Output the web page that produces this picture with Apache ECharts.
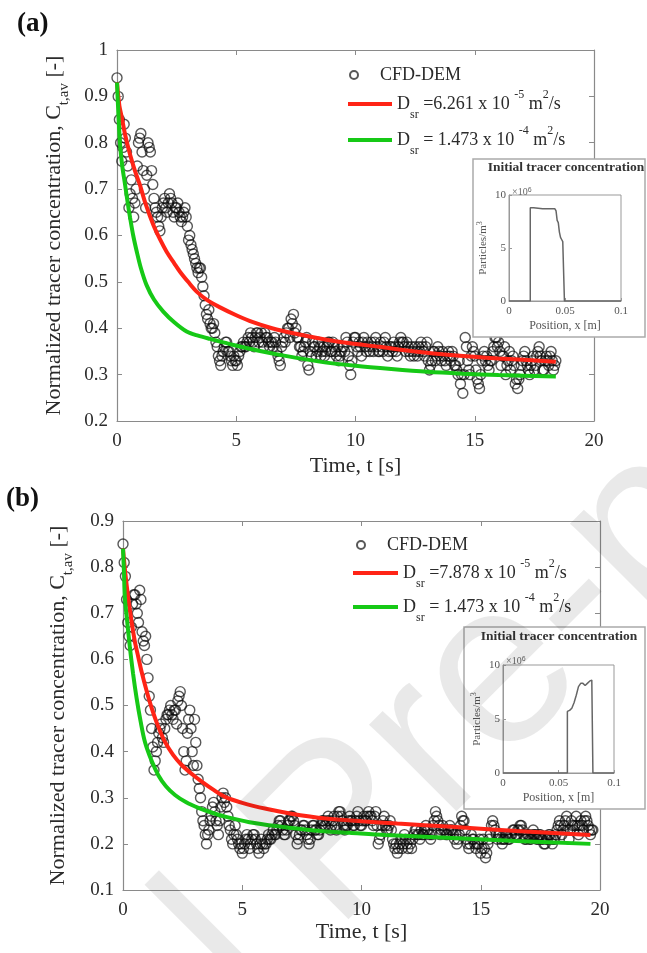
<!DOCTYPE html>
<html><head><meta charset="utf-8">
<script src="https://cdn.jsdelivr.net/npm/echarts@6/dist/echarts.min.js"></script>
<style>html,body{margin:0;padding:0;background:#fff}#c{width:647px;height:953px}</style>
</head><body><div id="c"></div>
<script>
// ---------- DATA ----------
const dtA = 0.05, dtB = 0.05;
const cfdA = [
  0.94,0.90,0.85,0.80,0.76,0.79,0.84,0.81,0.78,0.75,
  0.66,0.69,0.72,0.68,0.64,0.67,0.70,0.75,0.80,0.81,
  0.82,0.78,0.74,0.70,0.66,0.73,0.80,0.79,0.78,0.74,
  0.71,0.68,0.66,0.65,0.64,0.62,0.61,0.64,0.66,0.67,
  0.68,0.66,0.65,0.67,0.69,0.68,0.67,0.65,0.64,0.66,
  0.66,0.67,0.65,0.64,0.63,0.64,0.65,0.66,0.64,0.62,
  0.59,0.60,0.58,0.57,0.56,0.55,0.54,0.53,0.52,0.53,
  0.53,0.51,0.49,0.47,0.45,0.43,0.42,0.44,0.41,0.40,
  0.40,0.41,0.39,0.37,0.36,0.34,0.33,0.32,0.34,0.35,
  0.36,0.37,0.37,0.35,0.35,0.34,0.33,0.32,0.34,0.33,
  0.33,0.32,0.34,0.35,0.36,0.36,0.37,0.36,0.36,0.37,
  0.38,0.37,0.39,0.38,0.37,0.36,0.38,0.39,0.39,0.37,
  0.38,0.39,0.37,0.36,0.39,0.38,0.38,0.37,0.36,0.37,
  0.37,0.36,0.38,0.37,0.35,0.34,0.33,0.32,0.36,0.37,
  0.38,0.37,0.39,0.40,0.40,0.38,0.42,0.41,0.43,0.39,
  0.40,0.38,0.38,0.36,0.36,0.34,0.35,0.36,0.37,0.38,
  0.32,0.31,0.35,0.34,0.37,0.36,0.36,0.34,0.35,0.37,
  0.36,0.34,0.35,0.36,0.34,0.35,0.36,0.37,0.37,0.35,
  0.35,0.37,0.36,0.35,0.34,0.36,0.33,0.34,0.35,0.36,
  0.36,0.35,0.38,0.37,0.34,0.32,0.30,0.33,0.37,0.38,
  0.38,0.36,0.35,0.37,0.36,0.34,0.37,0.38,0.36,0.35,
  0.37,0.36,0.35,0.37,0.36,0.35,0.37,0.38,0.36,0.35,
  0.35,0.37,0.36,0.35,0.37,0.38,0.36,0.34,0.35,0.36,
  0.36,0.35,0.37,0.36,0.35,0.34,0.36,0.37,0.38,0.37,
  0.37,0.36,0.35,0.37,0.36,0.35,0.34,0.36,0.35,0.34,
  0.36,0.35,0.34,0.36,0.35,0.37,0.36,0.35,0.34,0.36,
  0.37,0.33,0.31,0.32,0.33,0.35,0.35,0.33,0.34,0.36,
  0.35,0.34,0.33,0.35,0.34,0.33,0.32,0.34,0.35,0.34,
  0.33,0.35,0.34,0.32,0.32,0.31,0.30,0.33,0.28,0.30,
  0.26,0.30,0.38,0.36,0.33,0.31,0.30,0.34,0.36,0.35,
  0.34,0.31,0.29,0.28,0.27,0.30,0.33,0.34,0.35,0.33,
  0.34,0.32,0.31,0.33,0.33,0.35,0.36,0.38,0.38,0.36,
  0.37,0.35,0.32,0.34,0.34,0.36,0.30,0.32,0.33,0.35,
  0.31,0.33,0.34,0.32,0.28,0.29,0.27,0.29,0.30,0.32,
  0.33,0.34,0.35,0.33,0.32,0.31,0.30,0.32,0.33,0.34,
  0.31,0.32,0.34,0.35,0.36,0.34,0.33,0.31,0.31,0.33,
  0.34,0.33,0.32,0.34,0.35,0.33,0.31,0.32,0.33];
const cfdB = [
  0.85,0.81,0.78,0.73,0.68,0.65,0.63,0.67,0.72,0.74,
  0.74,0.72,0.70,0.68,0.75,0.73,0.66,0.64,0.63,0.65,
  0.60,0.56,0.52,0.49,0.45,0.41,0.36,0.38,0.40,0.42,
  0.44,0.45,0.46,0.43,0.42,0.45,0.47,0.48,0.48,0.49,
  0.50,0.48,0.47,0.49,0.49,0.46,0.51,0.52,0.53,0.50,
  0.45,0.40,0.36,0.38,0.44,0.47,0.49,0.45,0.40,0.37,
  0.47,0.42,0.37,0.34,0.32,0.30,0.27,0.25,0.24,0.22,
  0.20,0.22,0.23,0.25,0.26,0.28,0.29,0.27,0.25,0.24,
  0.22,0.25,0.28,0.30,0.31,0.29,0.30,0.28,0.26,0.24,
  0.23,0.21,0.20,0.22,0.24,0.22,0.21,0.20,0.19,0.20,
  0.18,0.19,0.20,0.21,0.22,0.21,0.19,0.20,0.21,0.22,
  0.22,0.21,0.20,0.19,0.18,0.20,0.21,0.20,0.19,0.20,
  0.20,0.21,0.22,0.21,0.21,0.22,0.23,0.22,0.22,0.23,
  0.24,0.25,0.25,0.24,0.23,0.22,0.22,0.23,0.24,0.25,
  0.25,0.26,0.26,0.25,0.24,0.22,0.20,0.21,0.22,0.23,
  0.23,0.24,0.24,0.23,0.22,0.21,0.20,0.21,0.23,0.24,
  0.24,0.23,0.23,0.22,0.22,0.23,0.24,0.25,0.25,0.24,
  0.24,0.25,0.26,0.25,0.23,0.24,0.25,0.26,0.24,0.23,
  0.26,0.27,0.27,0.26,0.25,0.24,0.23,0.24,0.24,0.25,
  0.26,0.25,0.25,0.24,0.24,0.25,0.26,0.27,0.25,0.24,
  0.24,0.25,0.26,0.25,0.25,0.26,0.27,0.26,0.26,0.25,
  0.24,0.26,0.27,0.24,0.20,0.21,0.22,0.24,0.25,0.26,
  0.24,0.23,0.23,0.24,0.25,0.23,0.21,0.20,0.19,0.20,
  0.18,0.19,0.20,0.21,0.19,0.20,0.22,0.21,0.20,0.19,
  0.21,0.20,0.19,0.21,0.22,0.23,0.23,0.22,0.22,0.21,
  0.23,0.22,0.22,0.23,0.24,0.23,0.23,0.22,0.21,0.22,
  0.24,0.25,0.27,0.26,0.25,0.24,0.22,0.23,0.24,0.23,
  0.23,0.22,0.22,0.23,0.24,0.23,0.23,0.22,0.21,0.22,
  0.20,0.21,0.22,0.24,0.26,0.25,0.25,0.23,0.21,0.20,
  0.19,0.20,0.22,0.21,0.21,0.20,0.19,0.20,0.20,0.21,
  0.18,0.19,0.21,0.19,0.17,0.18,0.20,0.21,0.22,0.24,
  0.25,0.24,0.23,0.22,0.21,0.22,0.22,0.21,0.20,0.21,
  0.21,0.22,0.22,0.21,0.21,0.22,0.22,0.23,0.23,0.22,
  0.22,0.23,0.23,0.24,0.24,0.23,0.22,0.21,0.21,0.22,
  0.22,0.21,0.21,0.22,0.23,0.22,0.22,0.21,0.21,0.22,
  0.22,0.21,0.21,0.20,0.20,0.21,0.21,0.22,0.22,0.21,
  0.20,0.21,0.21,0.22,0.23,0.24,0.25,0.24,0.22,0.23,
  0.24,0.25,0.26,0.23,0.21,0.23,0.25,0.24,0.23,0.24,
  0.26,0.24,0.22,0.24,0.25,0.24,0.23,0.25,0.26,0.25,
  0.24,0.23,0.22,0.23,0.23];

const redAt = [0,0.1,0.2,0.35,0.55,0.75,0.96,1.2,1.52,1.8,2.08,2.4,2.64,3.0,3.34,3.8,4.32,5,5.7,6.5,7.5,8.5,9.7,11,12.5,14.1,16,18.4];
const redAy = [0.93,0.88,0.855,0.815,0.774,0.74,0.709,0.668,0.623,0.592,0.565,0.54,0.522,0.499,0.479,0.46,0.445,0.428,0.413,0.40,0.388,0.378,0.368,0.36,0.35,0.342,0.335,0.328];
const greenAt = [0,0.06,0.13,0.22,0.34,0.45,0.55,0.68,0.83,1.0,1.24,1.55,1.94,2.4,2.92,3.4,3.9,4.88,6,7,8.5,10,11.5,13,14.5,16,18.4];
const greenAy = [0.93,0.86,0.795,0.75,0.709,0.67,0.638,0.60,0.565,0.53,0.493,0.462,0.436,0.413,0.393,0.384,0.377,0.364,0.351,0.341,0.328,0.319,0.312,0.306,0.302,0.299,0.296];
const redBt = [0,0.1,0.22,0.35,0.5,0.65,0.78,1.0,1.2,1.45,1.76,2.1,2.46,2.9,3.3,3.8,4.28,5,6,7,8.5,10,11.5,13.8,16.5,19.6];
const redBy = [0.84,0.785,0.733,0.685,0.638,0.603,0.573,0.53,0.495,0.458,0.421,0.393,0.371,0.351,0.335,0.317,0.302,0.289,0.276,0.266,0.255,0.249,0.244,0.237,0.228,0.219];
const greenBt = [0,0.04,0.08,0.18,0.29,0.42,0.57,0.74,0.92,1.2,1.48,1.8,2.18,2.65,3.16,3.7,4.28,5.3,6.5,8,9.5,11,13.8,16.5,19.6];
const greenBy = [0.84,0.79,0.733,0.68,0.625,0.57,0.516,0.465,0.421,0.38,0.349,0.325,0.306,0.29,0.278,0.268,0.259,0.247,0.238,0.229,0.224,0.219,0.213,0.206,0.2];

const insetAx = [0,0.019,0.019,0.022,0.03,0.038,0.041,0.042,0.043,0.044,0.045,0.046,0.047,0.048,0.0495,0.0495,0.1];
const insetAy = [0,0,8.8,8.8,8.7,8.7,8.7,8.5,7.6,7.4,6.5,6.0,5.8,5.6,5.5,0,0];
const insetBx = [0,0.058,0.058,0.06,0.062,0.064,0.066,0.068,0.07,0.072,0.074,0.076,0.078,0.08,0.081,0.081,0.1];
const insetBy = [0,0,5.7,5.8,6.0,6.5,7.2,8.0,8.3,8.3,8.1,8.3,8.5,8.6,8.6,0,0];

const nameCFD = 'CFD-DEM';
const nameRedA = 'Dsr =6.261 x 10^-5 m^2/s';
const nameRedB = 'Dsr =7.878 x 10^-5 m^2/s';
const nameGreen = 'Dsr = 1.473 x 10^-4 m^2/s';
const legendRich = {};
legendRich[nameRedA] = 'D{sub|sr} =6.261 x 10 {sup|-5} m{sup|2}/s';
legendRich[nameRedB] = 'D{sub|sr} =7.878 x 10 {sup|-5} m{sup|2}/s';
legendRich[nameGreen] = 'D{sub|sr} = 1.473 x 10 {sup|-4} m{sup|2}/s';

// ---------- BUILD ----------
const pairs = (xs, ys) => xs.map((x, i) => [x, ys[i]]);
const tSeries = (arr, dt) => arr.map((v, i) => [Math.round(i * dt * 100) / 100, v]);

const FONT = 'Liberation Serif';
const AX = '#8a8a8a';
const TXT = '#2b2b2b';

function mainX(gi, pos, label) {
  return {
    type: 'value', gridIndex: gi, position: pos, min: 0, max: 20, interval: 5,
    axisLine: { show: true, onZero: false, lineStyle: { color: AX, width: 1.2 } },
    axisTick: { show: true, inside: true, length: 5, lineStyle: { color: AX } },
    axisLabel: { show: label, margin: 11, fontSize: 19, color: TXT, fontFamily: FONT },
    splitLine: { show: false },
    name: label ? 'Time, t [s]' : '', nameLocation: 'middle', nameGap: gi === 0 ? 34 : 29,
    nameTextStyle: { fontSize: 22, color: TXT, fontFamily: FONT }
  };
}
function mainY(gi, pos, label, min, max, gap) {
  return {
    type: 'value', gridIndex: gi, position: pos, min: min, max: max, interval: 0.1,
    axisLine: { show: true, onZero: false, lineStyle: { color: AX, width: 1.2 } },
    axisTick: { show: true, inside: true, length: 5, lineStyle: { color: AX } },
    axisLabel: { show: label, margin: 9, fontSize: 19, color: TXT, fontFamily: FONT,
      formatter: v => (Math.abs(v - 1) < 1e-9 ? '1' : v.toFixed(1)) },
    splitLine: { show: false },
    name: label ? 'Normalized tracer concentration, C{sub|t,av} [-]' : '',
    nameLocation: 'middle', nameGap: gap,
    nameTextStyle: { fontSize: 22, color: TXT, fontFamily: FONT, lineHeight: 36,
      rich: { sub: { fontSize: 15, lineHeight: 12, verticalAlign: 'bottom', fontFamily: FONT, color: TXT } } }
  };
}
function insetX(gi) {
  return {
    type: 'value', gridIndex: gi, min: 0, max: 0.1, interval: 0.05, z: 61,
    axisLine: { show: true, onZero: false, lineStyle: { color: '#999' } },
    axisTick: { show: true, inside: true, length: 3, lineStyle: { color: '#999' } },
    axisLabel: { margin: 5, fontSize: 11, color: '#555', fontFamily: FONT,
      formatter: v => (v === 0 ? '0' : String(+v.toFixed(2))) },
    splitLine: { show: false },
    name: 'Position, x [m]', nameLocation: 'middle', nameGap: 19,
    nameTextStyle: { fontSize: 12, color: '#555', fontFamily: FONT }
  };
}
function insetY(gi) {
  return {
    type: 'value', gridIndex: gi, min: 0, max: 10, interval: 5, z: 61,
    axisLine: { show: true, onZero: false, lineStyle: { color: '#999' } },
    axisTick: { show: true, inside: true, length: 3, lineStyle: { color: '#999' } },
    axisLabel: { margin: 3, fontSize: 11, color: '#555', fontFamily: FONT },
    splitLine: { show: false },
    name: 'Particles/m{sup|3}', nameLocation: 'middle', nameGap: 14,
    nameTextStyle: { fontSize: 11, color: '#555', fontFamily: FONT, lineHeight: 15,
      rich: { sup: { fontSize: 8, lineHeight: 8, verticalAlign: 'top', color: '#555', fontFamily: FONT } } }
  };
}

const scatterStyle = { color: 'rgba(255,255,255,0)', borderColor: 'rgba(10,10,10,0.85)', borderWidth: 1.4 };
const RED = '#ff2416', GREEN = '#16c916';

const legendText = {
  fontSize: 18, color: TXT, fontFamily: FONT, lineHeight: 34,
  rich: {
    sub: { fontSize: 12, lineHeight: 10, verticalAlign: 'bottom', fontFamily: FONT, color: TXT },
    sup: { fontSize: 12, lineHeight: 14, verticalAlign: 'top', padding: [2, 0, 0, 0], fontFamily: FONT, color: TXT }
  }
};
const fmt = name => legendRich[name] || name;

const curve = (name, xi, xs, ys, color, z) => ({
  type: 'line', name: name, xAxisIndex: xi, yAxisIndex: xi, symbol: 'none', smooth: 0.3,
  lineStyle: { color: color, width: 4 }, itemStyle: { color: color }, data: pairs(xs, ys), z: z
});

const option = {
  animation: false,
  backgroundColor: '#fff',
  textStyle: { fontFamily: FONT },
  grid: [
    { left: 117, top: 50, width: 477, height: 371 },
    { left: 123, top: 521, width: 477, height: 369 },
    { left: 509, top: 195, width: 112, height: 106, z: 60, show: true, backgroundColor: '#fff', borderColor: '#999' },
    { left: 503, top: 665, width: 111, height: 108, z: 60, show: true, backgroundColor: '#fff', borderColor: '#999' }
  ],
  xAxis: [mainX(0, 'bottom', true), mainX(0, 'top', false), mainX(1, 'bottom', true), mainX(1, 'top', false), insetX(2), insetX(3)],
  yAxis: [mainY(0, 'left', true, 0.2, 1, 45), mainY(0, 'right', false, 0.2, 1, 0),
          mainY(1, 'left', true, 0.1, 0.9, 47), mainY(1, 'right', false, 0.1, 0.9, 0), insetY(2), insetY(3)],
  legend: [
    { data: [nameCFD], left: 349, top: 65, orient: 'vertical', padding: 0, itemWidth: 42, itemHeight: 8,
      textStyle: { fontSize: 18, color: TXT, fontFamily: FONT, lineHeight: 20 } },
    { data: [{ name: nameRedA, icon: 'rect' }, { name: nameGreen, icon: 'rect' }], left: 348, top: 87,
      orient: 'vertical', padding: 0, itemGap: 2, itemWidth: 44, itemHeight: 4, formatter: fmt, textStyle: legendText },
    { data: [nameCFD], left: 356, top: 535, orient: 'vertical', padding: 0, itemWidth: 42, itemHeight: 8,
      textStyle: { fontSize: 18, color: TXT, fontFamily: FONT, lineHeight: 20 } },
    { data: [{ name: nameRedB, icon: 'rect' }, { name: nameGreen, icon: 'rect' }], left: 353, top: 556,
      orient: 'vertical', padding: 0, itemGap: 0, itemWidth: 45, itemHeight: 4, formatter: fmt, textStyle: legendText }
  ],
  series: [
    { type: 'scatter', name: nameCFD, xAxisIndex: 0, yAxisIndex: 0, symbol: 'circle', symbolSize: 10,
      itemStyle: scatterStyle, data: tSeries(cfdA, dtA), z: 2 },
    curve(nameRedA, 0, redAt, redAy, RED, 3),
    curve(nameGreen, 0, greenAt, greenAy, GREEN, 4),
    { type: 'scatter', name: nameCFD, xAxisIndex: 2, yAxisIndex: 2, symbol: 'circle', symbolSize: 10,
      itemStyle: scatterStyle, data: tSeries(cfdB, dtB), z: 2 },
    curve(nameRedB, 2, redBt, redBy, RED, 3),
    curve(nameGreen, 2, greenBt, greenBy, GREEN, 4),
    { type: 'line', name: 'initA', xAxisIndex: 4, yAxisIndex: 4, symbol: 'none', z: 62,
      lineStyle: { color: '#666', width: 1.5 }, data: pairs(insetAx, insetAy) },
    { type: 'line', name: 'initB', xAxisIndex: 5, yAxisIndex: 5, symbol: 'none', z: 62,
      lineStyle: { color: '#666', width: 1.5 }, data: pairs(insetBx, insetBy) }
  ],
  graphic: [
    { type: 'rect', z: 55, shape: { x: 473, y: 159, width: 172, height: 178 }, style: { fill: '#fff', stroke: '#aaa', lineWidth: 1.5 } },
    { type: 'rect', z: 55, shape: { x: 464, y: 627, width: 181, height: 182 }, style: { fill: '#fff', stroke: '#aaa', lineWidth: 1.5 } },
    { type: 'text', z: 63, x: 566, y: 168, style: { text: 'Initial tracer concentration', font: 'bold 13.5px "Liberation Serif"', fill: '#333', textAlign: 'center', textVerticalAlign: 'middle' } },
    { type: 'text', z: 63, x: 559, y: 637, style: { text: 'Initial tracer concentration', font: 'bold 13.5px "Liberation Serif"', fill: '#333', textAlign: 'center', textVerticalAlign: 'middle' } },
    { type: 'text', z: 63, x: 512, y: 192, style: { text: '\u00d710{s|6}', font: '10px "Liberation Serif"', fill: '#666', textVerticalAlign: 'middle',
        rich: { s: { fontSize: 7, verticalAlign: 'top', lineHeight: 8, fill: '#666' } } } },
    { type: 'text', z: 63, x: 506, y: 661, style: { text: '\u00d710{s|6}', font: '10px "Liberation Serif"', fill: '#666', textVerticalAlign: 'middle',
        rich: { s: { fontSize: 7, verticalAlign: 'top', lineHeight: 8, fill: '#666' } } } },
    { type: 'text', z: 70, x: 17, y: 24, style: { text: '(a)', font: 'bold 27px "Liberation Serif"', fill: '#111', textVerticalAlign: 'middle' } },
    { type: 'text', z: 70, x: 6, y: 499, style: { text: '(b)', font: 'bold 27px "Liberation Serif"', fill: '#111', textVerticalAlign: 'middle' } },
    { type: 'text', z: 100, x: 340, y: 837, rotation: Math.PI / 4, silent: true,
      style: { text: 'Journal Pre-proof', font: '233px "Liberation Sans"', fill: 'rgba(0,0,0,0.085)', textAlign: 'center', textVerticalAlign: 'middle' } }
  ]
};

const chart = echarts.init(document.getElementById('c'), null, { renderer: 'canvas' });
chart.setOption(option);
</script></body></html>
